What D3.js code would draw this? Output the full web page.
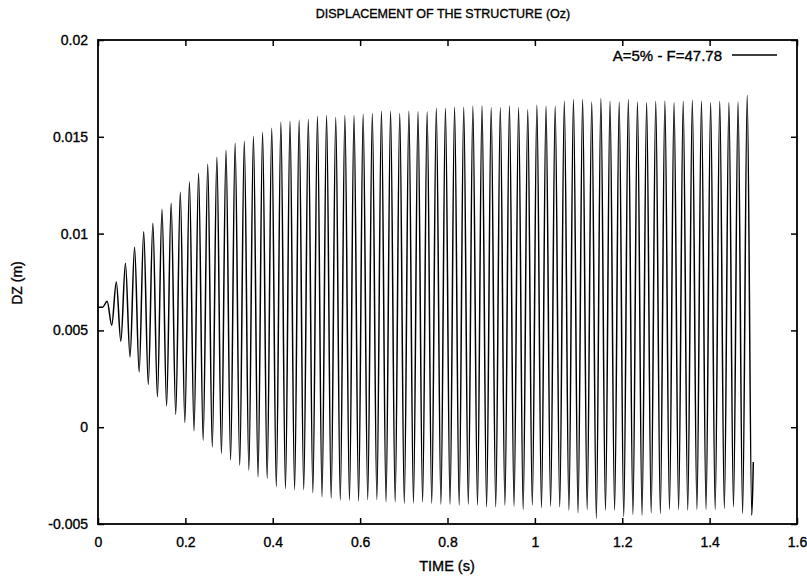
<!DOCTYPE html>
<html>
<head>
<meta charset="utf-8">
<script src="https://cdn.jsdelivr.net/npm/d3@7"></script>
<style>
body{margin:0;background:#fff;}
text{font-family:"Liberation Sans",Arial,Helvetica,sans-serif;fill:#000;stroke:#000;stroke-width:0.35px;}
</style>
</head>
<body>
<svg id="chart" width="807" height="576"></svg>
<script>
// values: tops and bottoms of each cycle (F=47.78 Hz)
const startTime=[0,0.0105];
const startDZ=[0.0062,0.0062];
const endTime=[1.5];
const endDZ=[-0.0018];

const peakTime=[0.0209,0.0419,0.0628,0.0837,0.1046,0.1256,0.1465,0.1674,0.1884,0.2093,
  0.2302,0.2512,0.2721,0.2930,0.3139,0.3349,0.3558,0.3767,0.3977,0.4186,
  0.4395,0.4604,0.4814,0.5023,0.5232,0.5442,0.5651,0.5860,0.6069,0.6279,
  0.6488,0.6697,0.6907,0.7116,0.7325,0.7534,0.7744,0.7953,0.8162,0.8372,
  0.8581,0.8790,0.9000,0.9209,0.9418,0.9627,0.9837,1.0046,1.0255,1.0465,
  1.0674,1.0883,1.1093,1.1302,1.1511,1.1720,1.1930,1.2139,1.2348,1.2558,
  1.2767,1.2976,1.3186,1.3395,1.3604,1.3813,1.4023,1.4232,1.4441,1.4651,1.4860];
const peakDZ=[0.0065,0.0075,0.00847,0.0093,0.0101,0.01054,0.01126,0.01157,0.01214,0.01266,
  0.01312,0.01358,0.01395,0.01431,0.01467,0.01477,0.01503,0.01524,0.01544,0.01575,
  0.0158,0.01585,0.0159,0.01606,0.0161,0.016,0.0161,0.0161,0.01617,0.0162,
  0.01632,0.01632,0.0162,0.01632,0.0163,0.0163,0.01648,0.01648,0.01653,0.01653,
  0.01658,0.0166,0.0165,0.0165,0.0166,0.0165,0.0164,0.01663,0.01658,0.01658,
  0.01684,0.01693,0.01693,0.0168,0.01698,0.01684,0.0168,0.01693,0.0168,0.01677,
  0.01684,0.01685,0.01677,0.01684,0.01689,0.01685,0.01677,0.01684,0.01677,0.0168,0.01715];

const troughTime=[0.0314,0.0523,0.0733,0.0942,0.1151,0.1360,0.1570,0.1779,0.1988,0.2198,
  0.2407,0.2616,0.2825,0.3035,0.3244,0.3453,0.3663,0.3872,0.4081,0.4291,
  0.4500,0.4709,0.4918,0.5128,0.5337,0.5546,0.5756,0.5965,0.6174,0.6383,
  0.6593,0.6802,0.7011,0.7221,0.7430,0.7639,0.7849,0.8058,0.8267,0.8476,
  0.8686,0.8895,0.9104,0.9314,0.9523,0.9732,0.9941,1.0151,1.0360,1.0569,
  1.0779,1.0988,1.1197,1.1407,1.1616,1.1825,1.2034,1.2244,1.2453,1.2662,
  1.2872,1.3081,1.3290,1.3499,1.3709,1.3918,1.4127,1.4337,1.4546,1.4755,1.4965];
const troughDZ=[0.00527,0.00444,0.00363,0.00286,0.00222,0.00157,0.0011,0.00066,0.00024,-0.00019,
  -0.00067,-0.00102,-0.00136,-0.0017,-0.00196,-0.00222,-0.00257,-0.00265,-0.00308,-0.00317,
  -0.00322,-0.00322,-0.00339,-0.0036,-0.00368,-0.00377,-0.00377,-0.00381,-0.00374,-0.00374,
  -0.00386,-0.00386,-0.00394,-0.00391,-0.00386,-0.00394,-0.00398,-0.00398,-0.00403,-0.00398,
  -0.00403,-0.00412,-0.00412,-0.00403,-0.00408,-0.00425,-0.00403,-0.00416,-0.00408,-0.00412,
  -0.00429,-0.00443,-0.00425,-0.00472,-0.00429,-0.00429,-0.00463,-0.00451,-0.00455,-0.00443,
  -0.00446,-0.00425,-0.00425,-0.00429,-0.00425,-0.00425,-0.00425,-0.0042,-0.00412,-0.00446,-0.00455];

const xTicks=[0,0.2,0.4,0.6,0.8,1,1.2,1.4,1.6];
const xTickLabels=["0","0.2","0.4","0.6","0.8","1","1.2","1.4","1.6"];
const yTicks=[-0.005,0,0.005,0.01,0.015,0.02];
const yTickLabels=["-0.005","0","0.005","0.01","0.015","0.02"];
const legendLabel="A=5% - F=47.78";

let margin={top:40,right:10,bottom:52,left:98},
  width=807,
  height=576;

let svg=d3.select("#chart");

let xScale=d3.scaleLinear().domain([0,1.6]).range([margin.left,width-margin.right]);
let yScale=d3.scaleLinear().domain([-0.005,0.02]).range([height-margin.bottom,margin.top]);

// merge all the read points into one time-ordered series
let data=[];
startTime.forEach(function(t,i){data.push({t:t,v:startDZ[i]})});
peakTime.forEach(function(t,i){data.push({t:t,v:peakDZ[i]})});
troughTime.forEach(function(t,i){data.push({t:t,v:troughDZ[i]})});
endTime.forEach(function(t,i){data.push({t:t,v:endDZ[i]})});
data.sort(function(a,b){return a.t-b.t});

let dzLine=d3.line()
  .x(function(d){return xScale(d.t)})
  .y(function(d){return yScale(d.v)})
  .curve(d3.curveMonotoneX);

svg.append("path")
  .datum(data)
  .attr("fill","none")
  .attr("stroke","#000")
  .attr("stroke-width",1.5)
  .attr("d",dzLine);

// axes, ticks pointing inward on all four sides
let bottomAxis=svg.append("g")
  .attr("transform","translate(0,"+(height-margin.bottom)+")")
  .call(d3.axisBottom(xScale).tickValues(xTicks)
    .tickFormat(function(d,i){return xTickLabels[i]})
    .tickSizeInner(-6).tickSizeOuter(0).tickPadding(13));
let leftAxis=svg.append("g")
  .attr("transform","translate("+margin.left+",0)")
  .call(d3.axisLeft(yScale).tickValues(yTicks)
    .tickFormat(function(d,i){return yTickLabels[i]})
    .tickSizeInner(-6).tickSizeOuter(0).tickPadding(10));
let topAxis=svg.append("g")
  .attr("transform","translate(0,"+margin.top+")")
  .call(d3.axisTop(xScale).tickValues(xTicks).tickFormat("").tickSizeInner(-6).tickSizeOuter(0));
let rightAxis=svg.append("g")
  .attr("transform","translate("+(width-margin.right)+",0)")
  .call(d3.axisRight(yScale).tickValues(yTicks).tickFormat("").tickSizeInner(-6).tickSizeOuter(0));

[bottomAxis,leftAxis,topAxis,rightAxis].forEach(function(g){
  g.select(".domain").remove();
  g.attr("font-size",14).attr("font-family",null);
  g.selectAll(".tick line").attr("stroke","#000").attr("stroke-width",1.5);
});

svg.append("rect")
  .attr("x",margin.left)
  .attr("y",margin.top)
  .attr("width",width-margin.left-margin.right)
  .attr("height",height-margin.top-margin.bottom)
  .attr("fill","none")
  .attr("stroke","#000")
  .attr("stroke-width",1.8);

svg.append("text")
  .attr("x",443).attr("y",18)
  .attr("text-anchor","middle")
  .attr("font-size",12.5)
  .text("DISPLACEMENT OF THE STRUCTURE (Oz)");

svg.append("text")
  .attr("x",447).attr("y",571)
  .attr("text-anchor","middle")
  .attr("font-size",14.5)
  .text("TIME (s)");

svg.append("text")
  .attr("transform","translate(22,283) rotate(-90)")
  .attr("text-anchor","middle")
  .attr("font-size",14)
  .text("DZ (m)");

// legend
svg.append("text")
  .attr("x",722).attr("y",61)
  .attr("text-anchor","end")
  .attr("font-size",15)
  .text(legendLabel);
svg.append("line")
  .attr("x1",732).attr("x2",777)
  .attr("y1",55).attr("y2",55)
  .attr("stroke","#000")
  .attr("stroke-width",1.3);
</script>
</body>
</html>
